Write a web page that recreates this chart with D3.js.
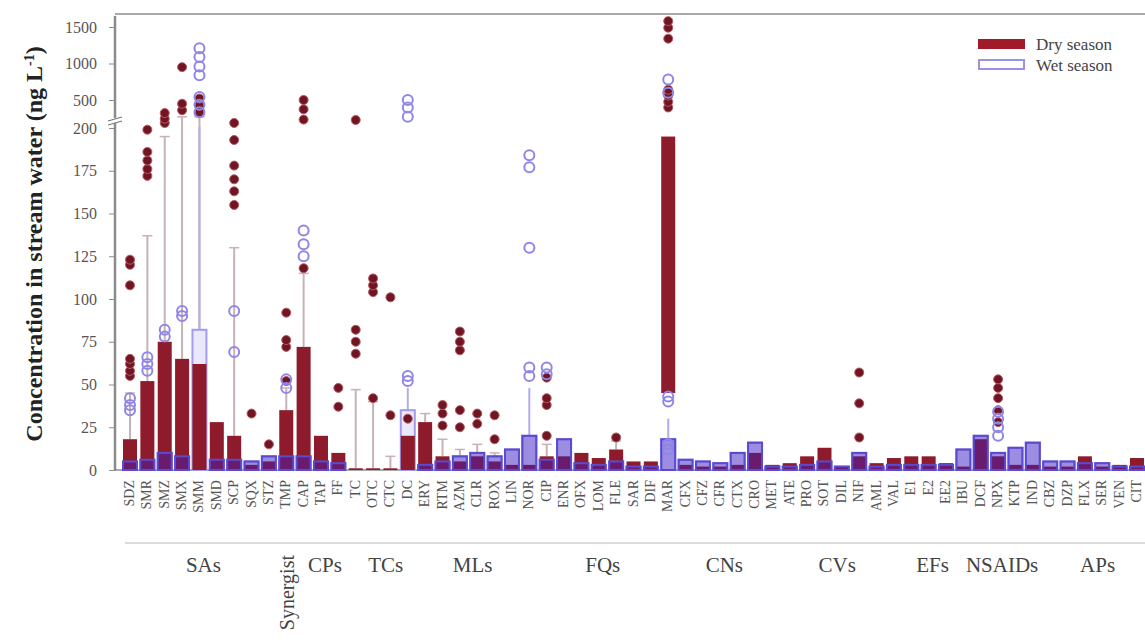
<!DOCTYPE html>
<html>
<head>
<meta charset="utf-8">
<script src="https://cdn.jsdelivr.net/npm/d3@7"></script>
<style>
  body { margin: 0; background: #fff; }
  text { font-family: "Liberation Serif", "DejaVu Serif", serif; }
</style>
</head>
<body>
<script>
// compound abbreviations, one per box position
var categories = [
  "SDZ","SMR","SMZ","SMX","SMM","SMD","SCP","SQX","STZ",
  "TMP",
  "CAP","TAP","FF",
  "TC","OTC","CTC","DC",
  "ERY","RTM","AZM","CLR","ROX","LIN",
  "NOR","CIP","ENR","OFX","LOM","FLE","SAR","DIF","MAR",
  "CFX","CFZ","CFR","CTX","CRO",
  "MET","ATE","PRO","SOT","DIL","NIF","AML","VAL",
  "E1","E2","EE2",
  "IBU","DCF","NPX","KTP","IND",
  "CBZ","DZP","FLX","SER","VEN","CIT"
];

var groupNames = ["SAs","Synergist","CPs","TCs","MLs","FQs","CNs","CVs","EFs","NSAIDs","APs"];
var groupStart = [0, 9, 10, 13, 17, 23, 32, 37, 45, 48, 53];
var groupEnd   = [8, 9, 12, 16, 22, 31, 36, 44, 47, 52, 58];

// dry season (ng/L)
var dryQ1 = [0,0,0,0,0,0,0,0,0,0, 0,0,0,0,0,0,0,0,0,0, 0,0,0,0,0,0,0,0,0,0, 0,45,0,0,0,0,0,0,0,0, 0,0,0,0,0,0,0,0,0,0, 0,0,0,0,0,0,0,0,0];
var dryQ3 = [18,52,75,65,62,28,20,3,5,35, 72,20,10,1,1,1,20,28,8,5, 8,5,3,3,8,8,10,7,12,5, 5,195,3,2,2,3,10,3,4,8, 13,2,8,4,7,8,8,4,2,18, 8,3,3,2,2,8,2,3,7];
var dryHi = [45,137,195,320,320,28,130,3,5,48, 115,20,10,47,40,8,28,33,18,12, 15,10,3,3,15,8,10,7,17,5, 5,195,3,2,2,3,10,3,4,8, 13,2,8,4,7,8,8,4,2,18, 8,3,3,2,2,8,2,3,7];
var dryOut = [
  [55,58,62,65,108,120,123], [172,176,181,186,199], [254,300,360], [390,460,950], [370,440,520],
  [], [155,163,170,178,193,254], [33], [15], [52,72,76,92],
  [118,290,400,500], [], [37,48], [68,75,82,286], [42,104,108,112],
  [32,101], [30], [], [26,33,38], [25,35,70,75,81],
  [27,33], [18,32], [], [], [20,38,42,54],
  [], [], [], [19], [],
  [], [420,480,560,640,1340,1490,1580], [], [], [],
  [], [], [], [], [],
  [], [], [19,39,57], [], [],
  [], [], [], [], [],
  [28,35,42,48,53], [], [], [], [],
  [], [], [], []
];

// wet season (ng/L)
var wetQ1 = [0,0,0,0,0,0,0,0,0,0, 0,0,0,0,0,0,0,0,0,0, 0,0,0,0,0,0,0,0,0,0, 0,0,0,0,0,0,0,0,0,0, 0,0,0,0,0,0,0,0,0,0, 0,0,0,0,0,0,0,0,0];
var wetQ3 = [5,6,10,8,82,6,6,5,8,8, 8,5,4,0,0,0,35,3,5,8, 10,8,12,20,6,18,4,3,5,2, 2,18,6,5,4,10,16,2,2,3, 5,2,10,2,3,3,3,3,12,20, 10,13,16,5,5,4,4,2,2];
var wetHi = [5,6,10,8,210,6,6,5,8,8, 8,5,4,0,0,0,48,3,5,8, 10,8,12,48,6,18,4,3,5,2, 2,30,6,5,4,10,16,2,2,3, 5,2,10,2,3,3,3,3,12,20, 10,13,16,5,5,4,4,2,2];
var wetOut = [
  [35,38,42], [58,62,66], [78,82], [90,93], [370,450,540,840,960,1090,1210],
  [], [69,93], [], [], [48,53],
  [125,132,140], [], [], [], [],
  [], [52,55,320,420,500], [], [], [],
  [], [], [], [55,60,130,177,184], [56,60],
  [], [], [], [], [],
  [], [12,15,40,43,600,780], [], [], [],
  [], [], [], [], [],
  [], [], [], [], [],
  [], [], [], [], [],
  [20,25,30,34], [], [], [], [],
  [], [], [], []
];

var yTicks = [0,25,50,75,100,125,150,175,200,500,1000,1500];

var W = 1145, H = 642;
var dryCol = "#8e1b2b", dryDot = "#6f1622", wetCol = "#5a4ad2", wetDot = "#8f86e8";

var svg = d3.select("body").append("svg").attr("width", W).attr("height", H);

var x = d3.scalePoint().domain(categories).range([130, 1137]);
// broken axis: 0-200 on the lower part, 200-1500 squeezed above the break
var y = d3.scaleLinear().domain([0, 200, 500, 1500, 1650]).range([470, 128, 100, 27, 16]);

var bw = 14;

// frame
svg.append("line").attr("x1", 115).attr("x2", W).attr("y1", 14).attr("y2", 14)
  .attr("stroke", "#a9a9a9").attr("stroke-width", 2);

var yAxis = svg.append("g").attr("transform", "translate(115,0)")
  .call(d3.axisLeft(y).tickValues(yTicks).tickSize(6).tickPadding(12).tickFormat(d3.format("d")));
yAxis.select(".domain").attr("stroke", "#8c8c8c").attr("stroke-width", 2.5);
yAxis.selectAll(".tick line").attr("stroke", "#8c8c8c");
yAxis.selectAll(".tick text").attr("font-size", 16).attr("fill", "#555")
  .style("font-family", "Liberation Serif");
yAxis.select(".domain").attr("d", "M0," + y(1650) + "V" + y(0));

// axis break mark
svg.append("rect").attr("x", 108).attr("y", 118).attr("width", 14).attr("height", 5).attr("fill", "#fff");
svg.append("path").attr("d", "M108,121 L122,117 M108,125 L122,121")
  .attr("stroke", "#777").attr("stroke-width", 1.3).attr("fill", "none");

// baseline
svg.append("line").attr("x1", 115).attr("x2", W).attr("y1", y(0)).attr("y2", y(0))
  .attr("stroke", "#555").attr("stroke-width", 1);

var idx = d3.range(categories.length);

// dry whiskers
svg.append("g").selectAll("line").data(idx.filter(function(i) { return dryHi[i] > dryQ3[i]; }))
  .enter().append("line")
  .attr("x1", function(i) { return x(categories[i]); })
  .attr("x2", function(i) { return x(categories[i]); })
  .attr("y1", function(i) { return y(dryQ3[i]); })
  .attr("y2", function(i) { return y(dryHi[i]); })
  .attr("stroke", "#c7b2b5").attr("stroke-width", 2);
svg.append("g").selectAll("line").data(idx.filter(function(i) { return dryHi[i] > dryQ3[i]; }))
  .enter().append("line")
  .attr("x1", function(i) { return x(categories[i]) - 5; })
  .attr("x2", function(i) { return x(categories[i]) + 5; })
  .attr("y1", function(i) { return y(dryHi[i]); })
  .attr("y2", function(i) { return y(dryHi[i]); })
  .attr("stroke", "#c7b2b5").attr("stroke-width", 1.5);

// wet whiskers
svg.append("g").selectAll("line").data(idx.filter(function(i) { return wetHi[i] > wetQ3[i]; }))
  .enter().append("line")
  .attr("x1", function(i) { return x(categories[i]); })
  .attr("x2", function(i) { return x(categories[i]); })
  .attr("y1", function(i) { return y(wetQ3[i]); })
  .attr("y2", function(i) { return y(wetHi[i]); })
  .attr("stroke", "#b3aceb").attr("stroke-width", 2);

// wet boxes: outline behind, dry bars over them, then a tinted copy on top for the low part
var wetIdx = idx.filter(function(i) { return wetQ3[i] > 0; });
svg.append("g").selectAll("rect").data(wetIdx)
  .enter().append("rect")
  .attr("x", function(i) { return x(categories[i]) - bw / 2; })
  .attr("width", bw)
  .attr("y", function(i) { return y(wetQ3[i]); })
  .attr("height", function(i) { return y(wetQ1[i]) - y(wetQ3[i]); })
  .attr("fill", "#ebe8fb")
  .attr("stroke", "#a49ce8").attr("stroke-width", 2);

// dry boxes
svg.append("g").selectAll("rect").data(idx).enter().append("rect")
  .attr("x", function(i) { return x(categories[i]) - bw / 2; })
  .attr("width", bw)
  .attr("y", function(i) { return y(dryQ3[i]); })
  .attr("height", function(i) { return y(dryQ1[i]) - y(dryQ3[i]); })
  .attr("fill", dryCol);

svg.append("g").selectAll("rect").data(wetIdx.filter(function(i) { return wetQ3[i] <= 25; }))
  .enter().append("rect")
  .attr("x", function(i) { return x(categories[i]) - bw / 2; })
  .attr("width", bw)
  .attr("y", function(i) { return y(wetQ3[i]); })
  .attr("height", function(i) { return y(wetQ1[i]) - y(wetQ3[i]); })
  .attr("fill", "rgba(60,30,190,0.45)")
  .attr("stroke", wetCol).attr("stroke-width", 2);

// outliers
var dryPts = [], wetPts = [];
idx.forEach(function(i) {
  dryOut[i].forEach(function(v) { dryPts.push([categories[i], v]); });
  wetOut[i].forEach(function(v) { wetPts.push([categories[i], v]); });
});
svg.append("g").selectAll("circle").data(dryPts).enter().append("circle")
  .attr("cx", function(d) { return x(d[0]); })
  .attr("cy", function(d) { return y(d[1]); })
  .attr("r", 4.5)
  .attr("fill", dryDot).attr("stroke", "#b85a66").attr("stroke-width", 1);
svg.append("g").selectAll("circle").data(wetPts).enter().append("circle")
  .attr("cx", function(d) { return x(d[0]); })
  .attr("cy", function(d) { return y(d[1]); })
  .attr("r", 5)
  .attr("fill", "none").attr("stroke", wetDot).attr("stroke-width", 2);

// x labels
svg.append("g").selectAll("text").data(categories).enter().append("text")
  .attr("transform", function(d) { return "translate(" + (x(d) + 4) + ",480) rotate(-90)"; })
  .attr("text-anchor", "end")
  .attr("font-size", 14)
  .attr("fill", "#555")
  .text(function(d) { return d; });

svg.append("line").attr("x1", 125).attr("x2", W).attr("y1", 543).attr("y2", 543)
  .attr("stroke", "#d0d0d0").attr("stroke-width", 1.5);

// group labels
groupNames.forEach(function(g, k) {
  var cx = (x(categories[groupStart[k]]) + x(categories[groupEnd[k]])) / 2;
  if (g == "Synergist") {
    svg.append("text").attr("transform", "translate(" + (cx + 8) + ",555) rotate(-90)")
      .attr("text-anchor", "end").attr("font-size", 20).attr("fill", "#444").text(g);
  } else {
    svg.append("text").attr("x", cx + 4).attr("y", 572).attr("text-anchor", "middle")
      .attr("font-size", 21).attr("fill", "#444").text(g);
  }
});

// y title
var yt = svg.append("text").attr("transform", "translate(42,244) rotate(-90)")
  .attr("text-anchor", "middle").attr("font-size", 24).attr("font-weight", "bold").attr("fill", "#222");
yt.append("tspan").text("Concentration in stream water (ng L");
yt.append("tspan").attr("dy", -8).attr("font-size", 14).text("-1");
yt.append("tspan").attr("dy", 8).text(")");

// legend
var leg = svg.append("g");
leg.append("rect").attr("x", 978).attr("y", 39).attr("width", 47).attr("height", 10).attr("fill", "#a01a2a");
leg.append("rect").attr("x", 979).attr("y", 60).attr("width", 45).attr("height", 9)
  .attr("fill", "#fff").attr("stroke", "#9a92e6").attr("stroke-width", 2);
leg.append("text").attr("x", 1036).attr("y", 50).attr("font-size", 17).attr("fill", "#444").text("Dry season");
leg.append("text").attr("x", 1036).attr("y", 71).attr("font-size", 17).attr("fill", "#444").text("Wet season");
</script>
</body>
</html>
